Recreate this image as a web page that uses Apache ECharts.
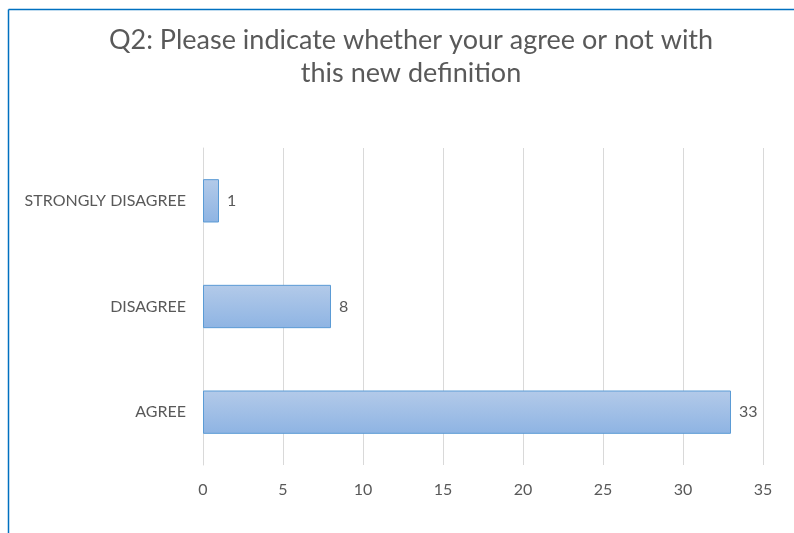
<!DOCTYPE html>
<html><head><meta charset="utf-8">
<script src="https://cdn.jsdelivr.net/npm/echarts@6/dist/echarts.min.js"></script>
<style>html,body{margin:0;padding:0;background:#fff}#c{width:794px;height:533px}</style>
</head><body><div id="c"></div>
<script>
const titleText = 'Q2: Please indicate whether your agree or not with\nthis new definition';
const categories = ['AGREE', 'DISAGREE', 'STRONGLY DISAGREE'];
const values = [33, 8, 1];
const xTicks = [0, 5, 10, 15, 20, 25, 30, 35];

const chart = echarts.init(document.getElementById('c'));
chart.setOption({
  animation: false,
  title: {
    text: titleText, left: 406, top: 19, textAlign: 'center',
    textStyle: { fontFamily: 'Lato', fontSize: 27, fontWeight: 'normal', color: '#595959', lineHeight: 33 }
  },
  graphic: [
    { type: 'line', shape: { x1: 8.5, y1: 9.5, x2: 794, y2: 9.5 }, style: { stroke: '#0070C0', lineWidth: 1.5 } },
    { type: 'line', shape: { x1: 8.5, y1: 9.5, x2: 8.5, y2: 533 }, style: { stroke: '#0070C0', lineWidth: 1.5 } }
  ],
  grid: { left: 203, right: 31, top: 148, bottom: 68, containLabel: false },
  xAxis: {
    type: 'value', min: xTicks[0], max: xTicks[xTicks.length - 1], interval: 5,
    axisLine: { show: false }, axisTick: { show: false },
    splitLine: { lineStyle: { color: '#D9D9D9', width: 1 } },
    axisLabel: { color: '#595959', fontFamily: 'Lato', fontSize: 16, margin: 17 }
  },
  yAxis: {
    type: 'category', data: categories,
    axisLine: { show: true, lineStyle: { color: '#D9D9D9' } }, axisTick: { show: false },
    axisLabel: { color: '#595959', fontFamily: 'Lato', fontSize: 16, margin: 17 }
  },
  series: [{
    type: 'bar', data: values, barCategoryGap: '59%',
    itemStyle: {
      color: new echarts.graphic.LinearGradient(0, 0, 0, 1, [
        { offset: 0, color: '#B3CAE9' }, { offset: 1, color: '#8EB4E3' }
      ]),
      borderColor: '#5B9BD5', borderWidth: 1
    },
    label: { show: true, position: 'right', distance: 8, color: '#595959', fontFamily: 'Lato', fontSize: 16 }
  }]
});
</script></body></html>
